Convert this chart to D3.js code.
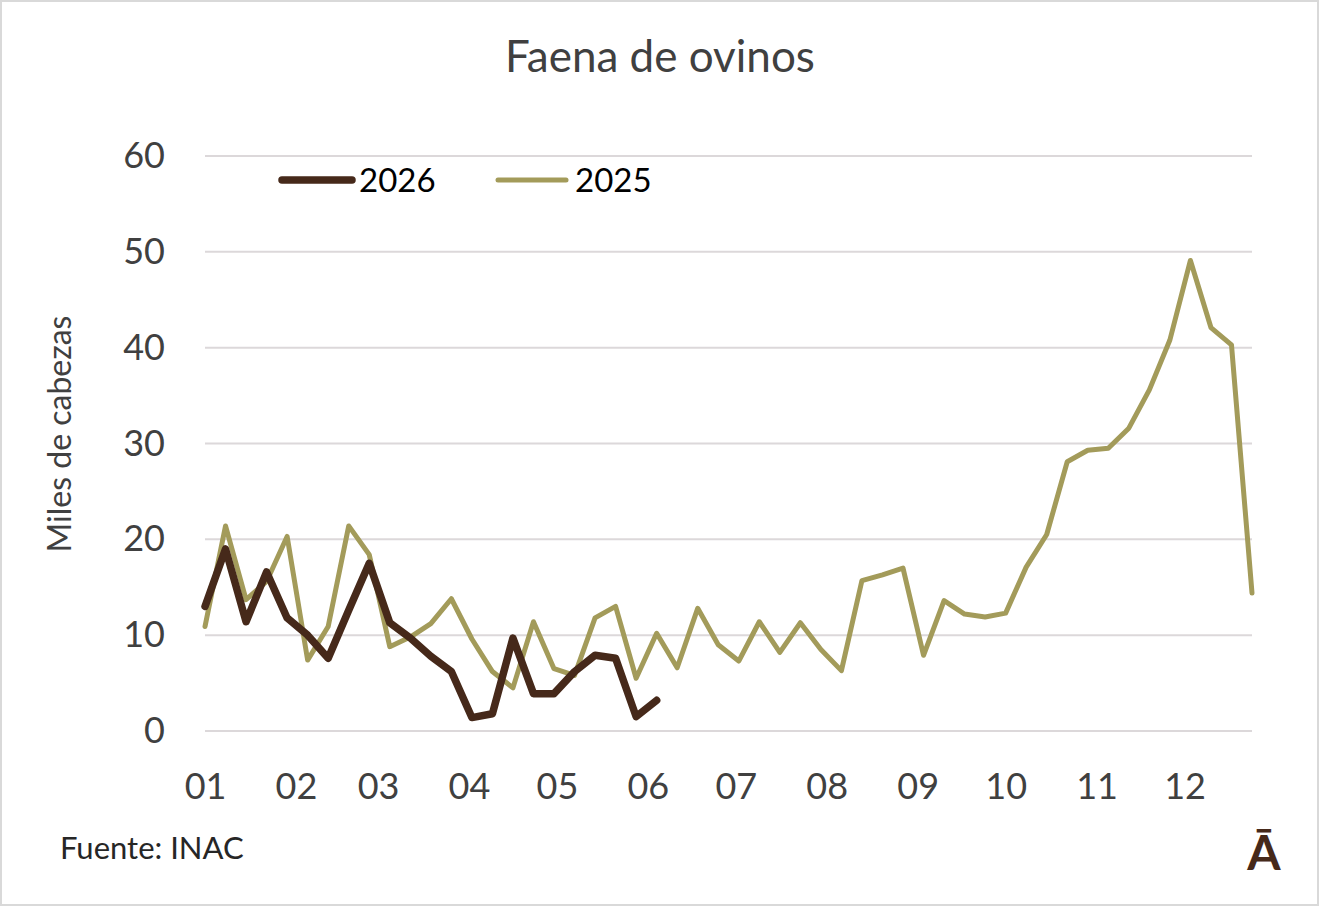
<!DOCTYPE html>
<html>
<head>
<meta charset="utf-8">
<script src="https://cdn.jsdelivr.net/npm/d3@7"></script>
<style>
  body { margin: 0; background: #fff; }
  text { font-family: Lato, "Open Sans", sans-serif; }
</style>
</head>
<body>
<div id="chart"></div>
<script>
// Weekly slaughter, thousands of head
const series = ["2026", "2025"];
const values2026 = [13.0, 19.0, 11.4, 16.6, 11.8, 10.0, 7.6, 12.6, 17.5, 11.3, 9.7, 7.8, 6.2, 1.4, 1.8, 9.7, 3.9, 3.9, 6.2, 7.9, 7.6, 1.5, 3.2];
const values2025 = [10.9, 21.4, 13.7, 15.6, 20.3, 7.4, 10.9, 21.4, 18.4, 8.8,
    9.8, 11.2, 13.8, 9.6, 6.2, 4.5, 11.4, 6.5, 5.8, 11.8,
    13.0, 5.5, 10.2, 6.6, 12.8, 9.0, 7.3, 11.4, 8.2, 11.3,
    8.5, 6.3, 15.7, 16.3, 17.0, 7.9, 13.6, 12.2, 11.9, 12.3,
    17.1, 20.5, 28.1, 29.3, 29.5, 31.6, 35.6, 40.8, 49.1, 42.1,
    40.3, 14.4];
const yTicks = [0, 10, 20, 30, 40, 50, 60];

// Set dimensions
const width = 1320;
const height = 907;
const margin = { top: 156, right: 68, bottom: 176, left: 205 };

const colors = { "2026": "#46291a", "2025": "#a39b5a" };
const lineWidths = { "2026": 7.5, "2025": 5 };

// week dates on a shared calendar axis (Jan 1 + 7 days per week)
const start = new Date(2025, 0, 1);
const weekDate = i => d3.timeDay.offset(start, 7 * i);

const svg = d3.select("#chart")
    .append("svg")
    .attr("width", width)
    .attr("height", height);

// outer frame
svg.append("rect")
    .attr("x", 1).attr("y", 1)
    .attr("width", width - 3).attr("height", height - 3)
    .attr("fill", "#fff")
    .attr("stroke", "#d9d9d9")
    .attr("stroke-width", 2);

const x = d3.scaleTime()
    .domain([weekDate(0), weekDate(values2025.length - 1)])
    .range([margin.left, width - margin.right]);

const y = d3.scaleLinear()
    .domain([0, 60])
    .range([height - margin.bottom, margin.top]);

// gridlines
svg.append("g")
    .selectAll("line")
    .data(yTicks)
    .join("line")
    .attr("x1", margin.left)
    .attr("x2", width - margin.right)
    .attr("y1", d => y(d))
    .attr("y2", d => y(d))
    .attr("stroke", "#dcd8da")
    .attr("stroke-width", 2);

// y axis labels
const yAxis = svg.append("g")
    .attr("transform", `translate(${margin.left - 40},0)`)
    .call(d3.axisLeft(y).tickValues(yTicks).tickSize(0).tickPadding(0));
yAxis.select(".domain").remove();
yAxis.selectAll("text")
    .attr("font-family", "Lato, sans-serif")
    .attr("font-size", 36)
    .attr("fill", "#404040");

// x axis labels (month of year)
const xAxis = svg.append("g")
    .attr("transform", `translate(0,${height - margin.bottom})`)
    .call(d3.axisBottom(x)
        .ticks(d3.timeMonth.every(1))
        .tickFormat(d3.timeFormat("%m"))
        .tickSize(0));
xAxis.select(".domain").remove();
xAxis.selectAll("text")
    .attr("y", 68)
    .attr("dy", 0)
    .attr("font-family", "Lato, sans-serif")
    .attr("font-size", 36)
    .attr("fill", "#404040");

// lines
const line = d3.line()
    .x((d, i) => x(weekDate(i)))
    .y(d => y(d));

const data = { "2026": values2026, "2025": values2025 };

svg.selectAll("path.series")
    .data(series.slice().reverse())
    .join("path")
    .attr("class", "series")
    .attr("d", d => line(data[d]))
    .attr("fill", "none")
    .attr("stroke", d => colors[d])
    .attr("stroke-width", d => lineWidths[d])
    .attr("stroke-linejoin", "round")
    .attr("stroke-linecap", "round");

// title
svg.append("text")
    .attr("x", width / 2)
    .attr("y", 72)
    .attr("text-anchor", "middle")
    .attr("font-size", 44)
    .attr("fill", "#404040")
    .text("Faena de ovinos");

// axis title
svg.append("text")
    .attr("transform", "translate(71,434) rotate(-90)")
    .attr("text-anchor", "middle")
    .attr("font-size", 32)
    .attr("fill", "#404040")
    .text("Miles de cabezas");

// legend
const legend = svg.append("g")
    .selectAll("g")
    .data(series)
    .join("g")
    .attr("transform", (d, i) => `translate(${282 + i * 216},180)`);

legend.append("line")
    .attr("x1", 0)
    .attr("x2", (d, i) => i === 0 ? 70 : 68)
    .attr("stroke", d => colors[d])
    .attr("stroke-width", d => lineWidths[d])
    .attr("stroke-linecap", "round");

legend.append("text")
    .attr("x", 77)
    .attr("y", 12)
    .attr("font-size", 33)
    .attr("fill", "#000")
    .text(d => d);

// source
svg.append("text")
    .attr("x", 60)
    .attr("y", 859)
    .attr("font-size", 31)
    .attr("fill", "#262626")
    .text("Fuente: INAC");

// logo mark
svg.append("text")
    .attr("x", 1264)
    .attr("y", 870)
    .attr("text-anchor", "middle")
    .attr("font-size", 48)
    .attr("font-weight", "bold")
    .attr("fill", "#46291a")
    .text("Ā");
</script>
</body>
</html>
